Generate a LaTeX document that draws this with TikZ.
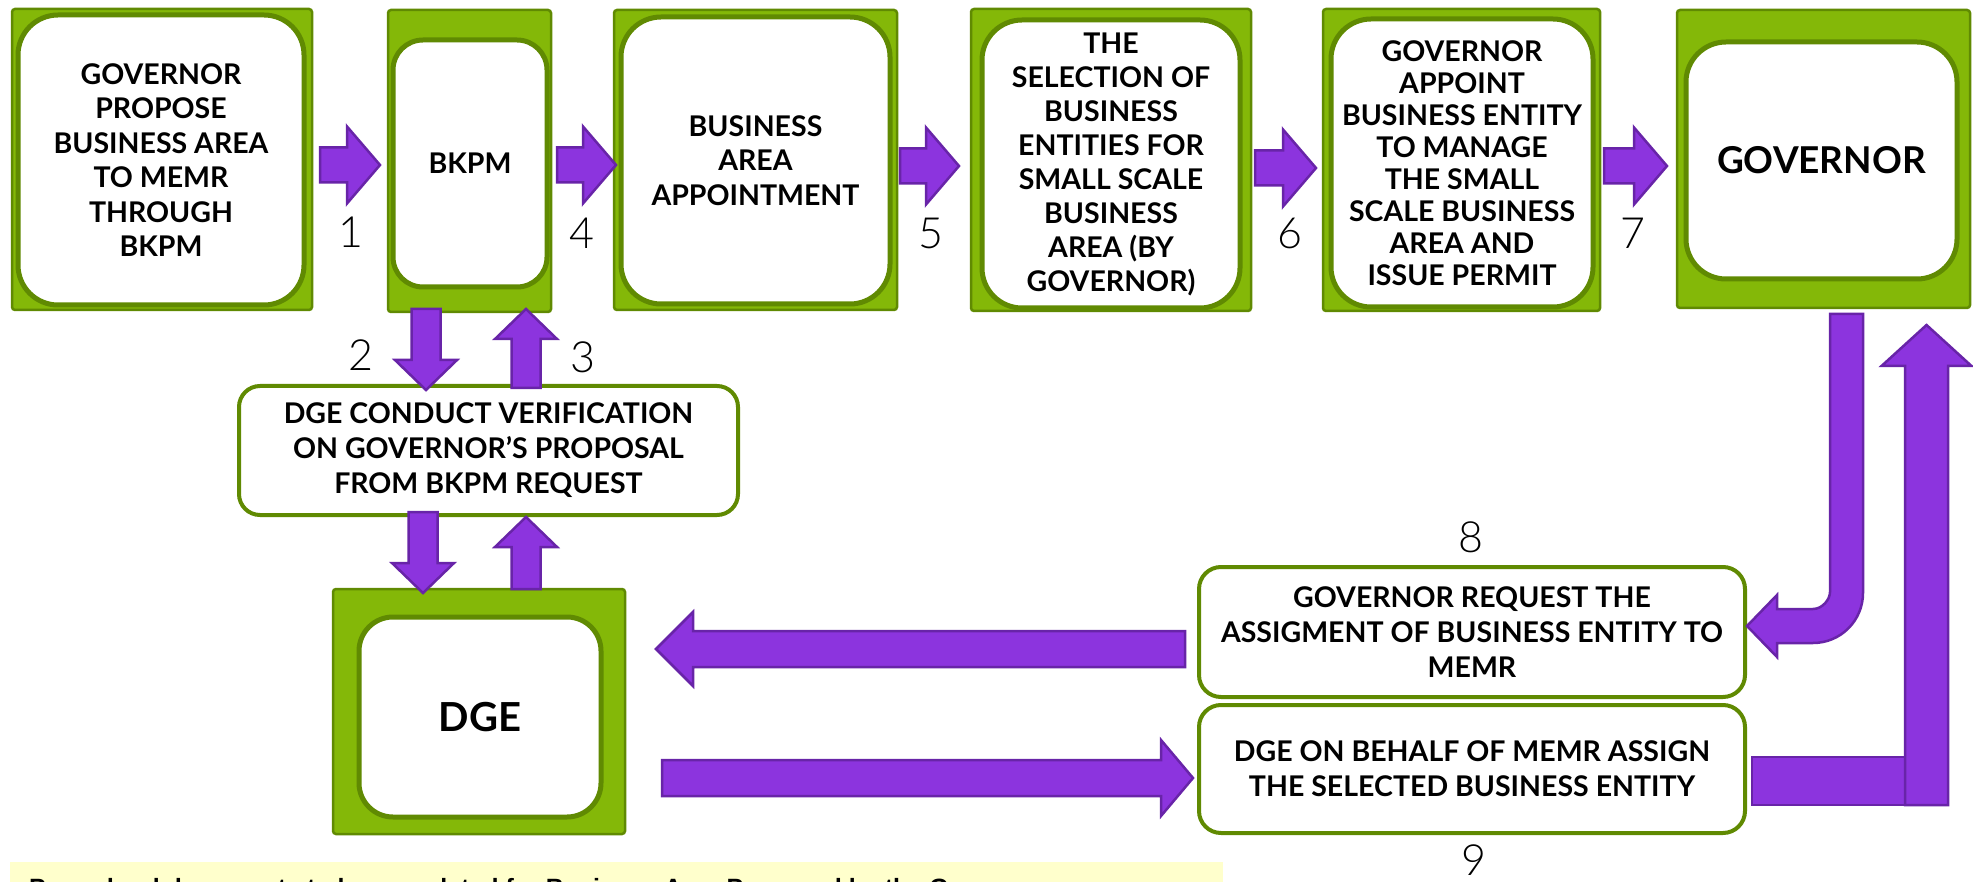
\documentclass[tikz,border=0pt]{standalone}
\usepackage{fontspec}
\setmainfont{Lato}
\newfontfamily\notefont{Liberation Sans}
\newfontfamily\numfont{Lato Light}
\usetikzlibrary{calc}

\definecolor{limefill}{RGB}{132,184,8}
\definecolor{limeedge}{RGB}{96,138,2}
\definecolor{violetfill}{RGB}{140,52,222}
\definecolor{violetedge}{RGB}{104,36,168}
\definecolor{notefill}{RGB}{255,255,204}

\tikzset{
  outerbox/.style={fill=limefill, draw=limeedge, line width=2.5pt, rounded corners=3pt, inner sep=0pt},
  innerbox/.style={fill=white, draw=limeedge, line width=5pt, inner sep=0pt, align=center,
    font=\bfseries\fontsize{28.5}{34.5}\selectfont},
  stepbox/.style={fill=white, draw=limeedge, line width=4pt, rounded corners=22pt, inner sep=0pt,
    align=center, font=\bfseries\fontsize{28.5}{35}\selectfont},
  blockarrow/.style={fill=violetfill, draw=violetedge, line width=2.5pt, line join=miter},
  stepnum/.style={font=\numfont\fontsize{43}{43}\selectfont, inner sep=0pt},
}

% block arrows: #1 tail, #2 tip, #3 shaft half width, #4 head half width, #5 head length
\newcommand\blockR[5]{\path[blockarrow] let \p1=(#1), \p2=(#2) in
  (\x1,\y1+#3) -- (\x2-#5,\y1+#3) -- (\x2-#5,\y1+#4) -- (\x2,\y1) -- (\x2-#5,\y1-#4)
  -- (\x2-#5,\y1-#3) -- (\x1,\y1-#3) -- cycle;}
\newcommand\blockL[5]{\path[blockarrow] let \p1=(#1), \p2=(#2) in
  (\x1,\y1+#3) -- (\x2+#5,\y1+#3) -- (\x2+#5,\y1+#4) -- (\x2,\y1) -- (\x2+#5,\y1-#4)
  -- (\x2+#5,\y1-#3) -- (\x1,\y1-#3) -- cycle;}
\newcommand\blockD[5]{\path[blockarrow] let \p1=(#1), \p2=(#2) in
  (\x1-#3,\y1) -- (\x1-#3,\y2+#5) -- (\x1-#4,\y2+#5) -- (\x1,\y2) -- (\x1+#4,\y2+#5)
  -- (\x1+#3,\y2+#5) -- (\x1+#3,\y1) -- cycle;}
\newcommand\blockU[5]{\path[blockarrow] let \p1=(#1), \p2=(#2) in
  (\x1-#3,\y1) -- (\x1-#3,\y2-#5) -- (\x1-#4,\y2-#5) -- (\x1,\y2) -- (\x1+#4,\y2-#5)
  -- (\x1+#3,\y2-#5) -- (\x1+#3,\y1) -- cycle;}

\begin{document}
\begin{tikzpicture}[x=1pt, y=-1pt]
\useasboundingbox (0,0) rectangle (1973,882);
\clip (0,0) rectangle (1973,882);

% ---------- top row of steps ----------
\node[outerbox, minimum width=300pt, minimum height=301pt] (b1o) at (162,159.5) {};
\node[innerbox, rounded corners=40pt, minimum width=286pt, minimum height=290pt] (b1) at (161,160)
  {GOVERNOR\\PROPOSE\\BUSINESS AREA\\TO MEMR\\THROUGH\\BKPM};

\node[outerbox, minimum width=163pt, minimum height=302pt] (b2o) at (469.5,161) {};
\node[innerbox, rounded corners=30pt, minimum width=154pt, minimum height=247pt] (b2) at (470,163.5) {BKPM};

\node[outerbox, minimum width=283pt, minimum height=300pt] (b3o) at (755.5,160) {};
\node[innerbox, rounded corners=40pt, minimum width=269pt, minimum height=287pt] (b3) at (755.5,160.5)
  {BUSINESS\\AREA\\APPOINTMENT};

\node[outerbox, minimum width=280pt, minimum height=302pt] (b4o) at (1111,160) {};
\node[innerbox, rounded corners=40pt, minimum width=258pt, minimum height=288pt,
  font=\bfseries\fontsize{28.5}{34}\selectfont] (b4) at (1111,164)
  {THE\\SELECTION OF\\BUSINESS\\ENTITIES FOR\\SMALL SCALE\\BUSINESS\\AREA (BY\\GOVERNOR)};

\node[outerbox, minimum width=277pt, minimum height=302pt] (b5o) at (1461.5,160) {};
\node[innerbox, rounded corners=40pt, minimum width=262pt, minimum height=288pt,
  font=\bfseries\fontsize{28.5}{32}\selectfont] (b5) at (1462,163)
  {GOVERNOR\\APPOINT\\BUSINESS ENTITY\\TO MANAGE\\THE SMALL\\SCALE BUSINESS\\AREA AND\\ISSUE PERMIT};

\node[outerbox, minimum width=293pt, minimum height=298pt] (b6o) at (1823.5,159) {};
\node[innerbox, rounded corners=40pt, minimum width=271pt, minimum height=237pt,
  font=\bfseries\fontsize{37}{40}\selectfont] (b6) at (1821.5,160.5) {GOVERNOR};

% ---------- verification and DGE ----------
\node[stepbox, rounded corners=21pt, minimum width=499pt, minimum height=129pt] (ver) at (488.5,450.5)
  {DGE CONDUCT VERIFICATION\\ON GOVERNOR’S PROPOSAL\\FROM BKPM REQUEST};

\node[outerbox, minimum width=292pt, minimum height=245pt] (dgeo) at (479,711.5) {};
\node[innerbox, rounded corners=34pt, minimum width=242pt, minimum height=200pt,
  font=\bfseries\fontsize{40}{44}\selectfont] (dge) at (480,717) {DGE};

% ---------- request / assignment ----------
\node[stepbox, minimum width=546pt, minimum height=130pt] (req) at (1472,632)
  {GOVERNOR REQUEST THE\\ASSIGMENT OF BUSINESS ENTITY TO\\MEMR};
\node[stepbox, minimum width=546pt, minimum height=128pt] (asg) at (1472,769)
  {DGE ON BEHALF OF MEMR ASSIGN\\THE SELECTED BUSINESS ENTITY};

% ---------- arrow end points ----------
\coordinate (a1t) at (320,165);  \coordinate (a1h) at (380,165);
\coordinate (a4t) at (557,165);  \coordinate (a4h) at (616,165);
\coordinate (a5t) at (900,166);  \coordinate (a5h) at (959,166);
\coordinate (a6t) at (1255,168); \coordinate (a6h) at (1316,168);
\coordinate (a7t) at (1604,166); \coordinate (a7h) at (1667,166);
\coordinate (a2t) at (426,309);  \coordinate (a2h) at (426,390);
\coordinate (a3t) at (526,388);  \coordinate (a3h) at (526,309);
\coordinate (a2bt) at (423,512); \coordinate (a2bh) at (423,593);
\coordinate (a3bt) at (526,589); \coordinate (a3bh) at (526,517);
\coordinate (aLt) at (1185,649); \coordinate (aLh) at (656,649);
\coordinate (aRt) at (662,778);  \coordinate (aRh) at (1193,778);
\coordinate (a9t) at (1926.5,805); \coordinate (a9h) at (1926.5,325);

% horizontal steps along the top row
\blockR{a1t}{a1h}{17.5pt}{38.5pt}{33pt}
\blockR{a4t}{a4h}{17.5pt}{38.5pt}{33pt}
\blockR{a5t}{a5h}{17.5pt}{38.5pt}{33pt}
\blockR{a6t}{a6h}{17.5pt}{38.5pt}{33pt}
\blockR{a7t}{a7h}{17.5pt}{38.5pt}{33pt}

% BKPM <-> verification <-> DGE
\blockD{a2t}{a2h}{14.5pt}{31pt}{30pt}
\blockU{a3t}{a3h}{14.5pt}{31pt}{30pt}
\blockD{a2bt}{a2bh}{14.5pt}{31pt}{30pt}
\blockU{a3bt}{a3bh}{14.5pt}{31pt}{30pt}

% request -> DGE, DGE -> assignment
\blockL{aLt}{aLh}{18pt}{37pt}{37pt}
\blockR{aRt}{aRh}{18pt}{38pt}{32pt}

% governor -> request (bent arrow)
\path[blockarrow] (1830,314) -- (1863,314) -- (1863,593)
  .. controls (1863,620.6) and (1840.6,643) .. (1813,643)
  -- (1777,643) -- (1777,657) -- (1747,626) -- (1777,595) -- (1777,609) -- (1813,609)
  .. controls (1822.4,609) and (1830,599.4) .. (1830,592) -- cycle;

% assignment -> governor (bar and upward arrow)
\path[blockarrow] (1752,757) rectangle (1948,805);
\blockU{a9t}{a9h}{21.5pt}{45pt}{41pt}

% ---------- step numbers ----------
\node[stepnum] (n1) at (351,232) {1};
\node[stepnum] (n4) at (582,233) {4};
\node[stepnum] (n5) at (931,233) {5};
\node[stepnum] (n6) at (1290,233) {6};
\node[stepnum] (n7) at (1633,233) {7};
\node[stepnum] (n2) at (361,355) {2};
\node[stepnum] (n3) at (583,357) {3};
\node[stepnum] (n8) at (1471,537) {8};
\node[stepnum] (n9) at (1474,860) {9};

% ---------- note strip ----------
\fill[notefill] (10,862) rectangle (1223,890);
\node[anchor=base west, inner sep=0pt, font=\notefont\bfseries\fontsize{25}{25}\selectfont] (note) at (29,896)
  {Procedural documents to be completed for Business Area Proposed by the Governor};
\end{tikzpicture}
\end{document}
